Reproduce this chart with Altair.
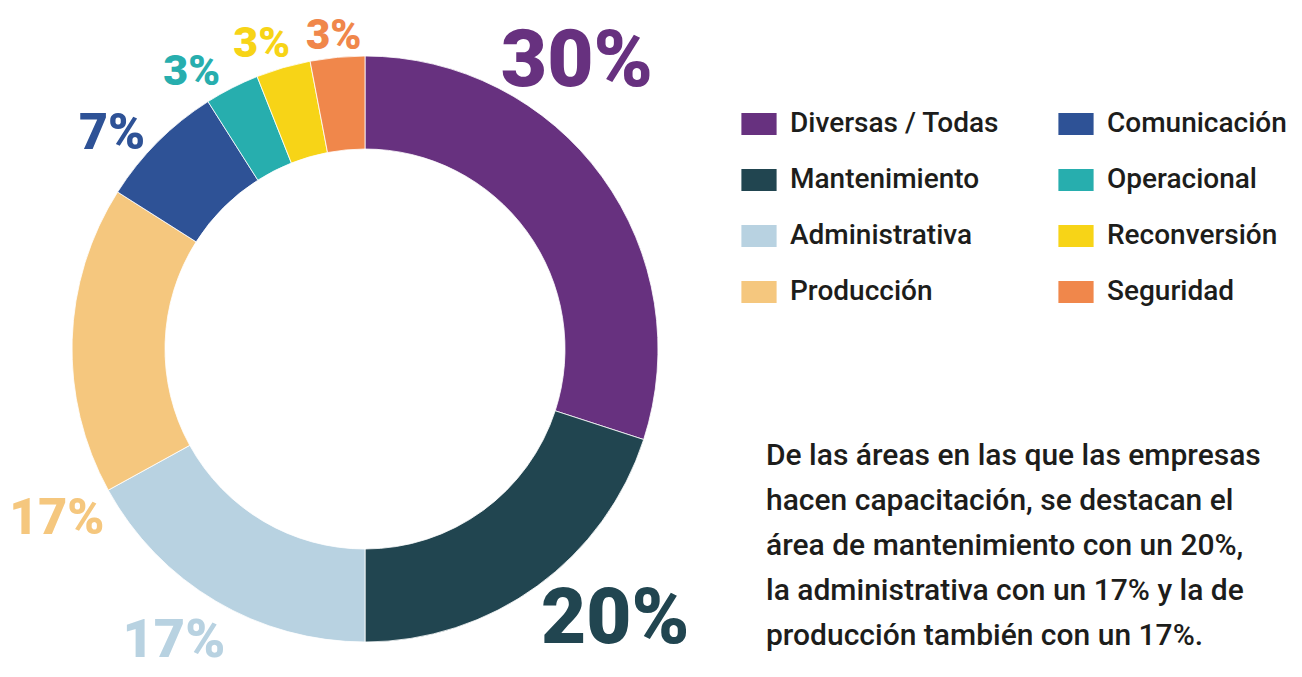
import altair as alt
import pandas as pd

categories = ["Diversas / Todas", "Mantenimiento", "Administrativa", "Producción",
              "Comunicación", "Operacional", "Reconversión", "Seguridad"]
values = [30, 20, 17, 17, 7, 3, 3, 3]
labels = ["30%", "20%", "17%", "17%", "7%", "3%", "3%", "3%"]
colors = ["#67317f", "#214550", "#b8d2e1", "#f5c77e",
          "#2e5296", "#27aeae", "#f7d417", "#f0874b"]

note_lines = [
    "De las áreas en las que las empresas",
    "hacen capacitación, se destacan el",
    "área de mantenimiento con un 20%,",
    "la administrativa con un 17% y la de",
    "producción también con un 17%.",
]

# label placement (styling only)
label_angle = [36.4, 137.3, 213.2, 241.1, 310.4, 328.0, 341.3, 354.3]
label_radius = [357, 369, 349, 352, 332, 327, 322, 315]
label_size = [80, 78, 54, 50, 50, 43, 43, 42]

CX, CY = 357, 341

df = pd.DataFrame({
    "category": categories,
    "value": values,
    "label": labels,
    "color": colors,
    "idx": list(range(len(categories))),
    "angle": label_angle,
    "rad": label_radius,
    "size": label_size,
})

arcs = alt.Chart(df).mark_arc(innerRadius=200, outerRadius=293, stroke="white", strokeWidth=0.8).encode(
    theta=alt.Theta("value:Q", stack=True),
    order=alt.Order("idx:Q"),
    color=alt.Color(
        "category:N",
        scale=alt.Scale(domain=categories, range=colors),
        legend=alt.Legend(
            orient="none", legendX=737, legendY=102, columns=2, title=None,
            symbolType="M-1.6,-1L1.6,-1L1.6,1L-1.6,1Z", symbolSize=484,
            symbolStrokeWidth=0, symbolOpacity=1,
            labelFont="Roboto", labelFontSize=28, labelFontWeight=500,
            labelColor="#1d1d1b", labelOffset=17, rowPadding=28,
            columnPadding=58, labelLimit=400,
        ),
    ),
    x=alt.value(CX),
    y=alt.value(CY),
)

texts = alt.Chart(df).transform_calculate(
    th="datum.angle * PI / 180"
).mark_text(font="Roboto", fontWeight=900, align="center", baseline="middle").encode(
    theta=alt.Theta("th:Q", scale=None, stack=False),
    radius=alt.Radius("rad:Q", scale=None),
    text="label:N",
    size=alt.Size("size:Q", scale=None),
    color=alt.Color("color:N", scale=None),
    x=alt.value(CX),
    y=alt.value(CY),
)

note = alt.Chart(pd.DataFrame({"t": [0]})).mark_text(
    text=note_lines, align="left", baseline="alphabetic", font="Roboto", fontWeight=500,
    fontSize=30, lineHeight=45, color="#1d1d1b",
).encode(x=alt.value(758), y=alt.value(457))

chart = alt.layer(arcs, texts, note).resolve_scale(
    theta="independent", radius="independent", color="independent", size="independent"
).properties(width=1286, height=661, padding=0, autosize="none").configure_view(stroke=None)

chart.save("out.html", embed_options={"renderer": "svg", "actions": False})
